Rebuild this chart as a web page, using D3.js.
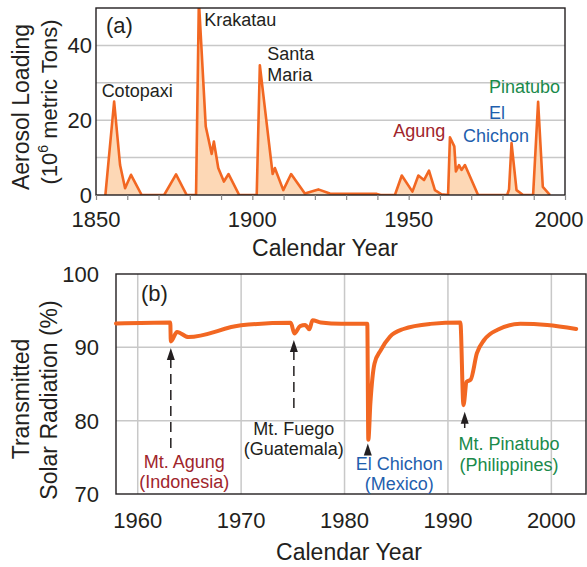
<!DOCTYPE html>
<html>
<head>
<meta charset="utf-8" />
<title>Volcanic aerosol and transmitted solar radiation</title>
<script src="https://cdn.jsdelivr.net/npm/d3@7"></script>
<style>
body { margin: 0; background: #fff; }
svg text { font-family: "Liberation Sans", Arial, Helvetica, sans-serif; fill: #231f20; }
</style>
</head>
<body>
<div id="chart"></div>
<script>
// panel (a): aerosol loading, 10^6 metric tons
const aerosolYears = [1853, 1855.8, 1857.7, 1859.3, 1861.2, 1864.6, 1871.8, 1875.6, 1879, 1882,
  1882.9, 1885.1, 1887, 1887.7, 1889.1, 1890.9, 1892.4, 1895.8, 1901.4, 1902.4,
  1906.5, 1907.2, 1909.9, 1912.4, 1916.8, 1921.1, 1924.8, 1939.8, 1941, 1945.6,
  1947.8, 1951.2, 1953.1, 1954.9, 1956.5, 1958.4, 1960.5, 1962.6, 1963.2, 1964.6,
  1965.1, 1966.1, 1966.9, 1968, 1972.2, 1981.5, 1982.1, 1982.9, 1984.5, 1986.6,
  1989.8, 1991.4, 1992.9, 1995.2];
const aerosolValues = [0, 25, 8, 1.8, 5.4, 0, 0, 5.5, 0, 0,
  52, 18.3, 11, 14.3, 7.2, 3.6, 5.6, 0, 0, 34.7,
  5.6, 7.2, 1.3, 5.6, 0.4, 1.5, 0.4, 0.3, 0, 0,
  5.2, 0.9, 5.2, 4, 6.5, 1.3, 0.2, 0, 15.4, 13,
  6.3, 8, 6.7, 8, 0, 0, 1.5, 13.9, 1.3, 0,
  0, 24.9, 2.2, 0];
const aerosolTicks = [0, 20, 40];
const aerosolGrid = [10, 20, 30, 40];
const aerosolXTicks = [1850, 1900, 1950, 2000];

// panel (b): transmitted solar radiation, %
const solarYears = [1957.9, 1963.15, 1963.2, 1963.8, 1964.9, 1970, 1974.8, 1975.15, 1975.7, 1976.2,
  1976.6, 1976.9, 1977.7, 1979.7, 1982.2, 1982.3, 1982.5, 1982.9, 1983.5, 1984.4,
  1985.7, 1988.3, 1991.2, 1991.5, 1991.8, 1992.2, 1992.8, 1993.5, 1994.8, 1997,
  1999.6, 2002.4];
const solarValues = [93.25, 93.4, 90.8, 92.1, 91.4, 93.0, 93.35, 91.9, 92.9, 93.05,
  92.45, 93.7, 93.4, 93.2, 93.2, 77.4, 82.4, 87.8, 89.6, 91.45,
  92.5, 93.2, 93.4, 82.1, 85.3, 85.6, 89.2, 91.0, 92.4, 93.2,
  93.05, 92.5];
const solarYTicks = [70, 80, 90, 100];
const solarXTicks = [1960, 1970, 1980, 1990, 2000];

// labels on panel (a)
const aerosolLabels = [
  {lines: ["Cotopaxi"], year: 1851.8, value: 26.1, color: "#231f20", anchor: "start"},
  {lines: ["Krakatau"], year: 1884.6, value: 45.1, color: "#231f20", anchor: "start"},
  {lines: ["Santa", "Maria"], year: 1904.8, value: 36.0, color: "#231f20", anchor: "start"},
  {lines: ["Agung"], year: 1961.7, value: 15.4, color: "#a0252b", anchor: "end"},
  {lines: ["Pinatubo"], year: 1975.7, value: 27.3, color: "#1a8a4b", anchor: "start"},
  {lines: ["El"], year: 1975.7, value: 20.4, color: "#1f5fae", anchor: "start"},
  {lines: ["Chichon"], year: 1967.4, value: 14.3, color: "#1f5fae", anchor: "start"}
];

// arrows and labels on panel (b)
const eruptions = [
  {lines: ["Mt. Agung", "(Indonesia)"], year: 1963.2, tip: 89.9, tail: 75.8, dashed: true,
   labelYear: 1964.5, labelValue: 73.55, color: "#a0252b"},
  {lines: ["Mt. Fuego", "(Guatemala)"], year: 1975.1, tip: 91.0, tail: 81.2, dashed: true,
   labelYear: 1975.1, labelValue: 78.05, color: "#231f20"},
  {lines: ["El Chichon", "(Mexico)"], year: 1982.25, tip: 76.9, tail: 75.5, dashed: false,
   labelYear: 1985.3, labelValue: 73.3, color: "#1f5fae"},
  {lines: ["Mt. Pinatubo", "(Philippines)"], year: 1991.62, tip: 81.2, tail: 79.0, dashed: false,
   labelYear: 1995.9, labelValue: 76.0, color: "#1a8a4b"}
];

const W = 587, H = 567;
const ink = "#231f20", grid = "#c8c8c8", orange = "#f26722", peach = "#fdd8b6";

const svg = d3.select("#chart").append("svg")
  .attr("width", W).attr("height", H);

// ---------- panel (a) ----------
const a = {left: 96, right: 565, top: 8, bottom: 195};
const xa = d3.scaleLinear().domain([1850, 2000]).range([a.left, a.right]);
const ya = d3.scaleLinear().domain([0, 50]).range([a.bottom, a.top]);

svg.append("clipPath").attr("id", "clipA")
  .append("rect").attr("x", a.left).attr("y", a.top)
  .attr("width", a.right - a.left).attr("height", a.bottom - a.top);

svg.append("g").selectAll("line").data(aerosolGrid).join("line")
  .attr("x1", a.left).attr("x2", a.right)
  .attr("y1", d => ya(d)).attr("y2", d => ya(d))
  .attr("stroke", grid).attr("stroke-width", 1.5);

const aData = aerosolYears.map((y, i) => [y, aerosolValues[i]]);
const gA = svg.append("g").attr("clip-path", "url(#clipA)");
gA.append("path").datum(aData)
  .attr("d", d3.area().x(d => xa(d[0])).y0(ya(0)).y1(d => ya(d[1])))
  .attr("fill", peach);
gA.append("path").datum(aData)
  .attr("d", d3.line().x(d => xa(d[0])).y(d => ya(d[1])))
  .attr("fill", "none").attr("stroke", orange).attr("stroke-width", 2.6)
  .attr("stroke-linejoin", "round");

// frame (a)
svg.append("rect").attr("x", a.left).attr("y", a.top)
  .attr("width", a.right - a.left).attr("height", a.bottom - a.top)
  .attr("fill", "none").attr("stroke", ink).attr("stroke-width", 1.4);

// x axis (a) with minor ticks every 10 years
const axA = svg.append("g").attr("transform", `translate(0,${a.bottom})`)
  .call(d3.axisBottom(xa).tickValues(d3.range(1850, 2001, 10)).tickSize(5).tickFormat(""));
axA.select(".domain").remove();
axA.selectAll("line").attr("stroke", "#888").attr("stroke-width", 1.2);

// last label pulled in so it stays on the page, as in the original
svg.append("g").selectAll("text").data(aerosolXTicks).join("text")
  .attr("x", d => Math.min(xa(d), W - 28)).attr("y", 227)
  .attr("text-anchor", "middle").attr("font-size", 22).text(d => d);

svg.append("g").selectAll("text").data(aerosolTicks).join("text")
  .attr("x", 92).attr("y", d => ya(d)).attr("dy", "0.36em")
  .attr("text-anchor", "end").attr("font-size", 22).text(d => d);

svg.append("text").attr("x", 106).attr("y", 33).attr("font-size", 22).text("(a)");

aerosolLabels.forEach(l => {
  const t = svg.append("text").attr("font-size", 18).attr("text-anchor", l.anchor)
    .style("fill", l.color);
  l.lines.forEach((s, i) => {
    t.append("tspan").attr("x", xa(l.year)).attr("y", ya(l.value) + i * 21).text(s);
  });
});

svg.append("text").attr("x", 325).attr("y", 256).attr("text-anchor", "middle")
  .attr("font-size", 23).text("Calendar Year");

svg.append("text").attr("transform", "translate(29,107) rotate(-90)")
  .attr("text-anchor", "middle").attr("font-size", 23).text("Aerosol Loading");
const t2 = svg.append("text").attr("transform", "translate(57,102) rotate(-90)")
  .attr("text-anchor", "middle").attr("font-size", 22);
t2.append("tspan").text("(10");
t2.append("tspan").attr("font-size", 14).attr("dy", -9).text("6");
t2.append("tspan").attr("dy", 9).text(" metric Tons)");

// ---------- panel (b) ----------
const b = {left: 116, right: 586, top: 274, bottom: 494};
const xb = d3.scaleLinear().domain([1957.9, 2003.35]).range([b.left, b.right]);
const yb = d3.scaleLinear().domain([70, 100]).range([b.bottom, b.top]);

svg.append("g").selectAll("line").data(solarXTicks).join("line")
  .attr("x1", d => xb(d)).attr("x2", d => xb(d))
  .attr("y1", b.top).attr("y2", b.bottom)
  .attr("stroke", grid).attr("stroke-width", 1.5);
svg.append("g").selectAll("line").data([80, 90]).join("line")
  .attr("x1", b.left).attr("x2", b.right)
  .attr("y1", d => yb(d)).attr("y2", d => yb(d))
  .attr("stroke", grid).attr("stroke-width", 1.5);

svg.append("rect").attr("x", b.left).attr("y", b.top)
  .attr("width", b.right - b.left).attr("height", b.bottom - b.top)
  .attr("fill", "none").attr("stroke", ink).attr("stroke-width", 1.4);

const bData = solarYears.map((y, i) => [y, solarValues[i]]);
svg.append("path").datum(bData)
  .attr("d", d3.line().x(d => xb(d[0])).y(d => yb(d[1])).curve(d3.curveMonotoneX))
  .attr("fill", "none").attr("stroke", orange).attr("stroke-width", 4)
  .attr("stroke-linejoin", "round").attr("stroke-linecap", "round");

svg.append("g").selectAll("text").data(solarXTicks).join("text")
  .attr("x", d => xb(d)).attr("y", 528)
  .attr("text-anchor", "middle").attr("font-size", 22).text(d => d);

svg.append("g").selectAll("text").data(solarYTicks).join("text")
  .attr("x", 99).attr("y", d => yb(d)).attr("dy", "0.36em")
  .attr("text-anchor", "end").attr("font-size", 22).text(d => d);

svg.append("text").attr("x", 141).attr("y", 301).attr("font-size", 22).text("(b)");

eruptions.forEach(e => {
  const x = xb(e.year), yt = yb(e.tip), yl = yb(e.tail);
  svg.append("line").attr("x1", x).attr("x2", x)
    .attr("y1", yt + 10).attr("y2", yl)
    .attr("stroke", ink).attr("stroke-width", 1.5)
    .attr("stroke-dasharray", e.dashed ? "10,6" : null);
  svg.append("path")
    .attr("d", `M${x},${yt} L${x - 4},${yt + 12} L${x + 4},${yt + 12} Z`)
    .attr("fill", ink);
  const t = svg.append("text").attr("font-size", 18).attr("text-anchor", "middle")
    .style("fill", e.color);
  e.lines.forEach((s, i) => {
    t.append("tspan").attr("x", xb(e.labelYear)).attr("y", yb(e.labelValue) + i * 20.5).text(s);
  });
});

svg.append("text").attr("x", 349).attr("y", 560).attr("text-anchor", "middle")
  .attr("font-size", 23).text("Calendar Year");

svg.append("text").attr("transform", "translate(29,399) rotate(-90)")
  .attr("text-anchor", "middle").attr("font-size", 23).text("Transmitted");
svg.append("text").attr("transform", "translate(57,400) rotate(-90)")
  .attr("text-anchor", "middle").attr("font-size", 23).text("Solar Radiation (%)");
</script>
</body>
</html>
